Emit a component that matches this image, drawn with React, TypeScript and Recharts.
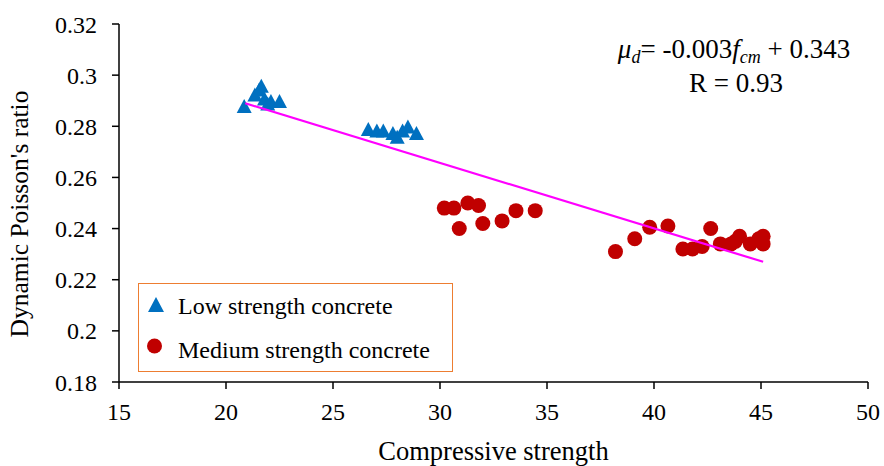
import React from "react";
import { ScatterChart, Scatter, XAxis, YAxis, Legend, Customized } from "recharts";

const lowX = [20.85, 21.35, 21.55, 21.65, 21.8, 21.95, 22.1, 22.5, 26.65, 27.05, 27.35, 27.8, 28.0, 28.25, 28.5, 28.9];
const lowY = [0.2875, 0.292, 0.294, 0.2955, 0.2905, 0.2885, 0.2895, 0.2895, 0.2785, 0.278, 0.278, 0.277, 0.2755, 0.278, 0.2795, 0.277];

const medX = [30.2, 30.65, 30.9, 31.3, 31.8, 32.0, 32.9, 33.55, 34.45, 38.2, 39.1, 39.8, 40.65, 41.35, 41.8, 42.25, 42.65, 43.1, 43.6, 43.8, 44.0, 44.5, 44.9, 45.1, 45.1];
const medY = [0.248, 0.248, 0.24, 0.25, 0.249, 0.242, 0.243, 0.247, 0.247, 0.231, 0.236, 0.2405, 0.241, 0.232, 0.232, 0.233, 0.24, 0.234, 0.234, 0.235, 0.237, 0.234, 0.236, 0.237, 0.234];

const trendX = [20.9, 45.1];
const trendY = [0.289, 0.227];

const xTicks = [15, 20, 25, 30, 35, 40, 45, 50];
const yTicks = [0.18, 0.2, 0.22, 0.24, 0.26, 0.28, 0.3, 0.32];

const lowName = "Low strength concrete";
const medName = "Medium strength concrete";
const xTitle = "Compressive strength";
const yTitle = "Dynamic Poisson's ratio";

const lowData = lowX.map((x, i) => ({ x, y: lowY[i] }));
const medData = medX.map((x, i) => ({ x, y: medY[i] }));
const trendData = trendX.map((x, i) => ({ x, y: trendY[i] }));

const FONT = "Liberation Serif";
const fontStyle = { fontFamily: FONT };
const BLUE = "#0070C0";
const RED = "#C00000";

const Triangle = (props: any) => {
  const { cx, cy } = props;
  return (
    <polygon
      points={`${cx},${cy - 8} ${cx - 7.5},${cy + 6} ${cx + 7.5},${cy + 6}`}
      fill={BLUE}
    />
  );
};

const Dot = (props: any) => {
  const { cx, cy } = props;
  return <circle cx={cx} cy={cy} r={7.5} fill={RED} />;
};

const NoShape = () => <g />;

const LegendBox = () => (
  <svg width={313} height={87} style={{ display: "block" }}>
    <polygon points="17,13 9,28 25,28" fill={BLUE} />
    <text x={39} y={30} style={fontStyle} fontSize={24} fill="#000">
      {lowName}
    </text>
    <circle cx={15.5} cy={62} r={7.5} fill={RED} />
    <text x={39} y={74} style={fontStyle} fontSize={24} fill="#000">
      {medName}
    </text>
  </svg>
);

const YTitle = () => (
  <text
    x={28}
    y={214}
    transform="rotate(-90, 28, 214)"
    textAnchor="middle"
    style={fontStyle}
    fontSize={25.5}
    fill="#000"
  >
    {yTitle}
  </text>
);

const Equation = () => (
  <g style={fontStyle} fill="#000">
    <text x={734} y={58} textAnchor="middle" fontSize={27} style={fontStyle}>
      <tspan fontStyle="italic">μ</tspan>
      <tspan fontStyle="italic" fontSize={18} dy={5}>d</tspan>
      <tspan dy={-5}>= -0.003</tspan>
      <tspan fontStyle="italic">f</tspan>
      <tspan fontStyle="italic" fontSize={18} dy={5}>cm</tspan>
      <tspan dy={-5}> + 0.343</tspan>
    </text>
    <text x={736} y={92} textAnchor="middle" fontSize={27} style={fontStyle}>
      R = 0.93
    </text>
  </g>
);

export default function App() {
  return (
    <div style={{ position: "absolute", left: 0, top: 0, background: "#fff", fontFamily: FONT }}>
      <ScatterChart
        width={884}
        height={466}
        margin={{ top: 24, right: 16, bottom: 0, left: 0 }}
        style={fontStyle}
      >
        <XAxis
          type="number"
          dataKey="x"
          domain={[15, 50]}
          ticks={xTicks}
          interval={0}
          allowDataOverflow
          height={84}
          axisLine={{ stroke: "#000", strokeWidth: 1.5 }}
          tickLine={{ stroke: "#000", strokeWidth: 1.5 }}
          tickSize={7}
          tickMargin={14}
          tick={{ fill: "#000", fontSize: 24, style: fontStyle }}
          label={{
            value: xTitle,
            position: "insideBottom",
            offset: 6,
            fill: "#000",
            fontSize: 26.5,
            style: fontStyle,
          }}
        />
        <YAxis
          type="number"
          dataKey="y"
          domain={[0.18, 0.32]}
          ticks={yTicks}
          interval={0}
          allowDataOverflow
          width={119}
          axisLine={{ stroke: "#000", strokeWidth: 1.5 }}
          tickLine={{ stroke: "#000", strokeWidth: 1.5 }}
          tickSize={7}
          tickMargin={15}
          tick={{ fill: "#000", fontSize: 24, style: fontStyle }}
          label={<YTitle />}
        />
        <Legend
          layout="vertical"
          verticalAlign="middle"
          align="center"
          content={<LegendBox />}
          wrapperStyle={{
            position: "absolute",
            left: 138,
            top: 283,
            width: 313,
            height: 87,
            border: "1px solid #ED7D31",
            background: "#fff",
          }}
        />
        <Scatter
          name={lowName}
          data={lowData}
          shape={Triangle}
          isAnimationActive={false}
        />
        <Scatter
          name={medName}
          data={medData}
          shape={Dot}
          isAnimationActive={false}
        />
        <Scatter
          name="trend"
          data={trendData}
          line={{ stroke: "#FF00FF", strokeWidth: 2.2 }}
          shape={NoShape}
          legendType="none"
          isAnimationActive={false}
        />
        <Customized component={Equation} />
      </ScatterChart>
    </div>
  );
}
